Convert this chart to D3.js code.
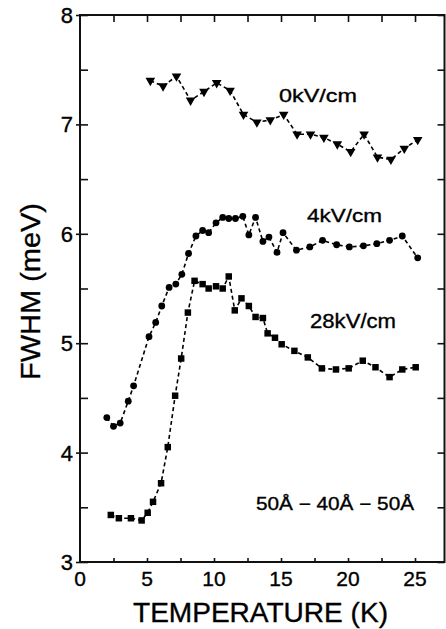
<!DOCTYPE html>
<html>
<head>
<meta charset="utf-8">
<script src="https://cdn.jsdelivr.net/npm/d3@7"></script>
<style>
  html, body { margin: 0; padding: 0; background: #fff; }
  svg { display: block; }
  text { font-family: "Liberation Sans", Arial, Helvetica, sans-serif; fill: #000; stroke: #000; stroke-width: 0.35px; }
</style>
</head>
<body>
<svg id="chart" width="446" height="629"></svg>
<script>
// ---- data ----
const t0kV = [5.25, 6.2, 7.2, 8.25, 9.25, 10.2, 11.2, 12.2, 13.2, 14.2, 15.2, 16.2, 17.2, 18.2, 19.2, 20.2, 21.2, 22.2, 23.2, 24.2, 25.2];
const v0kV = [7.40, 7.35, 7.44, 7.22, 7.30, 7.38, 7.31, 7.09, 7.02, 7.04, 7.09, 6.91, 6.91, 6.88, 6.82, 6.75, 6.91, 6.70, 6.68, 6.78, 6.86];

const t4kV = [2.0, 2.5, 3.0, 3.6, 4.0, 5.15, 5.65, 6.1, 6.65, 7.15, 7.6, 8.1, 8.65, 9.15, 9.6, 10.15, 10.65, 11.1, 11.6, 12.15, 12.6, 13.1, 13.65, 14.1, 14.7, 15.15, 16.15, 17.15, 18.1, 19.15, 20.1, 21.15, 22.15, 23.1, 24.05, 25.2];
const v4kV = [4.32, 4.24, 4.27, 4.47, 4.61, 5.06, 5.19, 5.34, 5.51, 5.54, 5.63, 5.82, 5.98, 6.03, 6.01, 6.10, 6.15, 6.14, 6.14, 6.16, 5.99, 6.15, 5.93, 5.97, 5.83, 6.01, 5.85, 5.88, 5.94, 5.90, 5.88, 5.89, 5.91, 5.94, 5.98, 5.78];

const t28kV = [2.3, 2.9, 3.8, 4.6, 5.05, 5.45, 6.05, 6.55, 7.1, 7.55, 8.05, 8.55, 9.15, 9.6, 10.15, 10.65, 11.1, 11.55, 12.05, 12.6, 13.1, 13.65, 14.0, 14.55, 15.05, 16.0, 17.0, 18.05, 19.1, 20.05, 21.1, 22.05, 23.1, 24.05, 25.05];
const v28kV = [3.43, 3.40, 3.40, 3.38, 3.45, 3.55, 3.72, 4.05, 4.52, 4.86, 5.28, 5.57, 5.54, 5.50, 5.52, 5.50, 5.61, 5.30, 5.41, 5.34, 5.24, 5.23, 5.09, 5.05, 4.99, 4.93, 4.87, 4.77, 4.76, 4.77, 4.84, 4.78, 4.69, 4.76, 4.78];

const xTickLabels = [0, 5, 10, 15, 20, 25];
const yTickLabels = [3, 4, 5, 6, 7, 8];
const seriesLabels = ["0kV/cm", "4kV/cm", "28kV/cm"];
const sampleLabel = "50Å − 40Å − 50Å";
const xTitle = "TEMPERATURE (K)";
const yTitle = "FWHM (meV)";

// ---- layout ----
const svg = d3.select("#chart");
const pL = 80, pR = 444.5, pT = 15, pB = 562;
const x = d3.scaleLinear().domain([0, 27.2]).range([pL, pR]);
const y = d3.scaleLinear().domain([3, 8]).range([pB, pT]);

const axisColor = "#111";
svg.append("rect").attr("x", pL).attr("y", pT).attr("width", pR - pL).attr("height", pB - pT)
  .attr("fill", "none").attr("stroke", axisColor).attr("stroke-width", 2);

const xMinor = d3.range(0, 27.2, 2.5);
const yMinor = d3.range(3, 8.01, 0.5);

const gB = svg.append("g").attr("transform", `translate(0,${pB})`)
  .call(d3.axisBottom(x).tickValues(xMinor.filter(d => d > 0)).tickSize(-4).tickFormat(""));
const gT = svg.append("g").attr("transform", `translate(0,${pT})`)
  .call(d3.axisTop(x).tickValues(xMinor.filter(d => d > 0)).tickSize(-7).tickFormat(""));
const gL = svg.append("g").attr("transform", `translate(${pL},0)`)
  .call(d3.axisLeft(y).tickValues(yMinor).tickSize(-8).tickFormat(""));
const gL2 = svg.append("g").attr("transform", `translate(${pL},0)`)
  .call(d3.axisLeft(y).tickValues(yTickLabels).tickSize(4).tickFormat(""));
const gR = svg.append("g").attr("transform", `translate(${pR},0)`)
  .call(d3.axisRight(y).tickValues(yMinor).tickSize(-7).tickFormat(""));
[gB, gT, gL, gL2, gR].forEach(g => {
  g.select(".domain").remove();
  g.selectAll(".tick line").attr("stroke", axisColor).attr("stroke-width", 1.6);
});

svg.append("g").selectAll("text").data(xTickLabels).join("text")
  .attr("x", d => x(d)).attr("y", 586).attr("text-anchor", "middle")
  .attr("font-size", 21).text(d => d);
svg.append("g").selectAll("text").data(yTickLabels).join("text")
  .attr("x", 73).attr("y", d => y(d) + 8).attr("text-anchor", "end")
  .attr("font-size", 22).text(d => d);

svg.append("text").attr("x", 133).attr("y", 622).attr("font-size", 28)
  .attr("textLength", 255).attr("lengthAdjust", "spacingAndGlyphs").text(xTitle);
svg.append("text").attr("transform", "translate(40,380) rotate(-90)").attr("font-size", 28)
  .attr("textLength", 177).attr("lengthAdjust", "spacingAndGlyphs").text(yTitle);

const line = d3.line().x(d => x(d[0])).y(d => y(d[1]));
const series = [
  { t: t0kV, v: v0kV, sym: "tri" },
  { t: t4kV, v: v4kV, sym: "circle" },
  { t: t28kV, v: v28kV, sym: "square" }
];
series.forEach(s => {
  const pts = s.t.map((t, i) => [t, s.v[i]]);
  svg.append("path").datum(pts).attr("d", line).attr("fill", "none")
    .attr("stroke", "#000").attr("stroke-width", 1.6).attr("stroke-dasharray", "4,3");
  const g = svg.append("g");
  if (s.sym === "circle") {
    g.selectAll("circle").data(pts).join("circle")
      .attr("cx", d => x(d[0])).attr("cy", d => y(d[1])).attr("r", 3.4).attr("fill", "#000");
  } else if (s.sym === "square") {
    g.selectAll("path").data(pts).join("path")
      .attr("d", d3.symbol(d3.symbolSquare, 42)())
      .attr("transform", d => `translate(${x(d[0])},${y(d[1])})`).attr("fill", "#000");
  } else {
    g.selectAll("path").data(pts).join("path")
      .attr("d", d3.symbol(d3.symbolTriangle, 40)())
      .attr("transform", d => `translate(${x(d[0])},${y(d[1])}) rotate(180)`).attr("fill", "#000");
  }
});

svg.append("text").attr("x", 279).attr("y", 102).attr("font-size", 19)
  .attr("textLength", 78).attr("lengthAdjust", "spacingAndGlyphs").text(seriesLabels[0]);
svg.append("text").attr("x", 307).attr("y", 222).attr("font-size", 19)
  .attr("textLength", 75).attr("lengthAdjust", "spacingAndGlyphs").text(seriesLabels[1]);
svg.append("text").attr("x", 310).attr("y", 328).attr("font-size", 20)
  .attr("textLength", 86).attr("lengthAdjust", "spacingAndGlyphs").text(seriesLabels[2]);
svg.append("text").attr("x", 256).attr("y", 510).attr("font-size", 18)
  .attr("textLength", 158).attr("lengthAdjust", "spacingAndGlyphs").text(sampleLabel);
</script>
</body>
</html>
